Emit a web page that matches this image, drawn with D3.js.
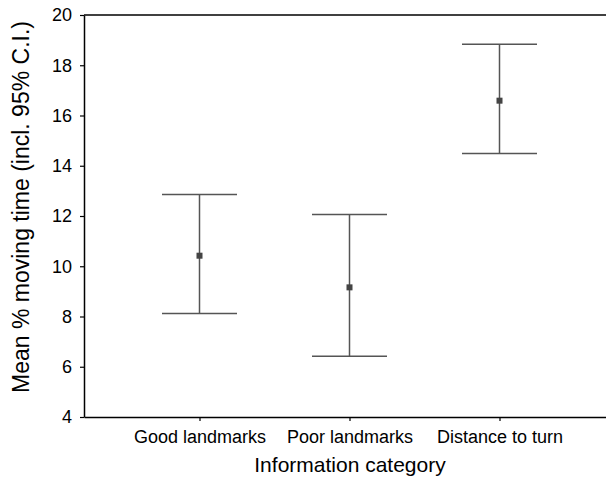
<!DOCTYPE html>
<html>
<head>
<meta charset="utf-8">
<script src="https://cdn.jsdelivr.net/npm/d3@7"></script>
<style>
  body { margin: 0; background: #fff; }
  text { font-family: "Liberation Sans", Arial, sans-serif; fill: #000; }
</style>
</head>
<body>
<div class="canvas"></div>
<script>
// data
const categories = ['Good landmarks', 'Poor landmarks', 'Distance to turn'];
const means = [10.42, 9.16, 16.59];
const lower = [8.12, 6.42, 14.49];
const upper = [12.86, 12.06, 18.84];
const yTicks = [4, 6, 8, 10, 12, 14, 16, 18, 20];

const width = 606;
const height = 478;
const margin = { top: 15, right: -9, bottom: 61, left: 84 };
const graphWidth = width - margin.left - margin.right;
const graphHeight = height - margin.top - margin.bottom;

const svg = d3.select('.canvas')
  .append('svg')
  .attr('width', width)
  .attr('height', height);

const graph = svg.append('g')
  .attr('transform', `translate(${margin.left}, ${margin.top})`);

const x = d3.scalePoint()
  .domain(categories)
  .range([0, graphWidth])
  .padding(0.77);

const y = d3.scaleLinear()
  .domain([4, 20])
  .range([graphHeight, 0]);

const data = categories.map((c, i) => ({ name: c, mean: means[i], lo: lower[i], hi: upper[i] }));

// frame top line
graph.append('line')
  .attr('x1', 0).attr('x2', graphWidth)
  .attr('y1', 0).attr('y2', 0)
  .attr('stroke', '#000').attr('stroke-width', 1.5);

// axes
const xAxisGroup = graph.append('g')
  .attr('transform', `translate(0, ${graphHeight})`)
  .call(d3.axisBottom(x).tickSize(4).tickPadding(9).tickSizeOuter(0));

const yAxisGroup = graph.append('g')
  .call(d3.axisLeft(y).tickValues(yTicks).tickSize(4).tickPadding(8).tickSizeOuter(0));

[xAxisGroup, yAxisGroup].forEach(g => {
  g.select('.domain').attr('stroke', '#000').attr('stroke-width', 1.5);
  g.selectAll('.tick line').attr('stroke', '#000').attr('stroke-width', 1.2);
  g.selectAll('.tick text').attr('font-size', 18).attr('fill', '#000')
    .style('font-family', '"Liberation Sans", Arial, sans-serif');
});

// error bars
const capHalf = x.step() * 0.25;
const bars = graph.selectAll('g.bar')
  .data(data)
  .enter()
  .append('g')
  .attr('class', 'bar');

bars.append('line')
  .attr('x1', d => x(d.name)).attr('x2', d => x(d.name))
  .attr('y1', d => y(d.hi)).attr('y2', d => y(d.lo))
  .attr('stroke', '#555').attr('stroke-width', 1.5);

bars.append('line')
  .attr('x1', d => x(d.name) - capHalf).attr('x2', d => x(d.name) + capHalf)
  .attr('y1', d => y(d.hi)).attr('y2', d => y(d.hi))
  .attr('stroke', '#555').attr('stroke-width', 1.5);

bars.append('line')
  .attr('x1', d => x(d.name) - capHalf).attr('x2', d => x(d.name) + capHalf)
  .attr('y1', d => y(d.lo)).attr('y2', d => y(d.lo))
  .attr('stroke', '#555').attr('stroke-width', 1.5);

bars.append('rect')
  .attr('x', d => x(d.name) - 3)
  .attr('y', d => y(d.mean) - 3)
  .attr('width', 6).attr('height', 6)
  .attr('fill', '#444');

// axis titles
svg.append('text')
  .attr('x', 350).attr('y', 472)
  .attr('text-anchor', 'middle')
  .attr('font-size', 21)
  .text('Information category');

svg.append('text')
  .attr('transform', 'translate(29, 207) rotate(-90)')
  .attr('text-anchor', 'middle')
  .attr('font-size', 23)
  .text('Mean % moving time (incl. 95% C.I.)');
</script>
</body>
</html>
